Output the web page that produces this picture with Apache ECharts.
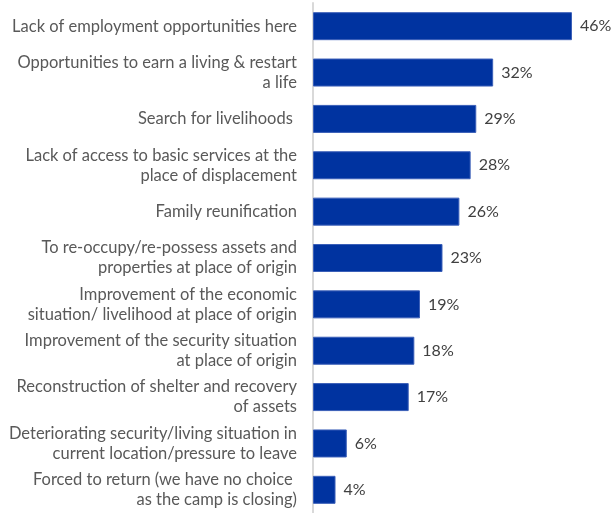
<!DOCTYPE html>
<html>
<head>
<meta charset="utf-8">
<script src="https://cdn.jsdelivr.net/npm/echarts@6/dist/echarts.min.js"></script>
<style>
  html, body { margin: 0; padding: 0; background: #fff; }
  #chart { width: 612px; height: 513px; }
</style>
</head>
<body>
<div id="chart"></div>
<script>
// Reasons for return, share of respondents (%), top to bottom
const reasons = [
  'Lack of employment opportunities here',
  'Opportunities to earn a living & restart\na life',
  'Search for livelihoods ',
  'Lack of access to basic services at the\nplace of displacement',
  'Family reunification',
  'To re-occupy/re-possess assets and\nproperties at place of origin',
  'Improvement of the economic\nsituation/ livelihood at place of origin',
  'Improvement of the security situation\nat place of origin',
  'Reconstruction of shelter and recovery\nof assets',
  'Deteriorating security/living situation in\ncurrent location/pressure to leave',
  'Forced to return (we have no choice \nas the camp is closing)'
];
const shares = [46, 32, 29, 28, 26, 23, 19, 18, 17, 6, 4];

const FONT = 'Lato, "Open Sans", sans-serif';

const chart = echarts.init(document.getElementById('chart'), null, { renderer: 'canvas' });
chart.setOption({
  animation: false,
  grid: { left: 313, top: 3, width: 281.5, height: 516, containLabel: false },
  xAxis: {
    type: 'value',
    min: 0,
    max: 50,
    show: false
  },
  yAxis: {
    type: 'category',
    inverse: true,
    data: reasons,
    axisLine: { show: true, lineStyle: { color: '#d9d9d9', width: 2 } },
    axisTick: { show: false },
    axisLabel: {
      margin: 16,
      color: '#595959',
      fontFamily: FONT,
      fontSize: 16.5,
      lineHeight: 20,
      align: 'right'
    }
  },
  series: [{
    type: 'bar',
    data: shares,
    barWidth: 28,
    itemStyle: { color: '#0033a0', borderColor: '#3a5fb8', borderWidth: 1 },
    label: {
      show: true,
      position: 'right',
      distance: 8,
      formatter: '{c}%',
      color: '#404040',
      fontFamily: FONT,
      fontSize: 16
    }
  }]
});
</script>
</body>
</html>
